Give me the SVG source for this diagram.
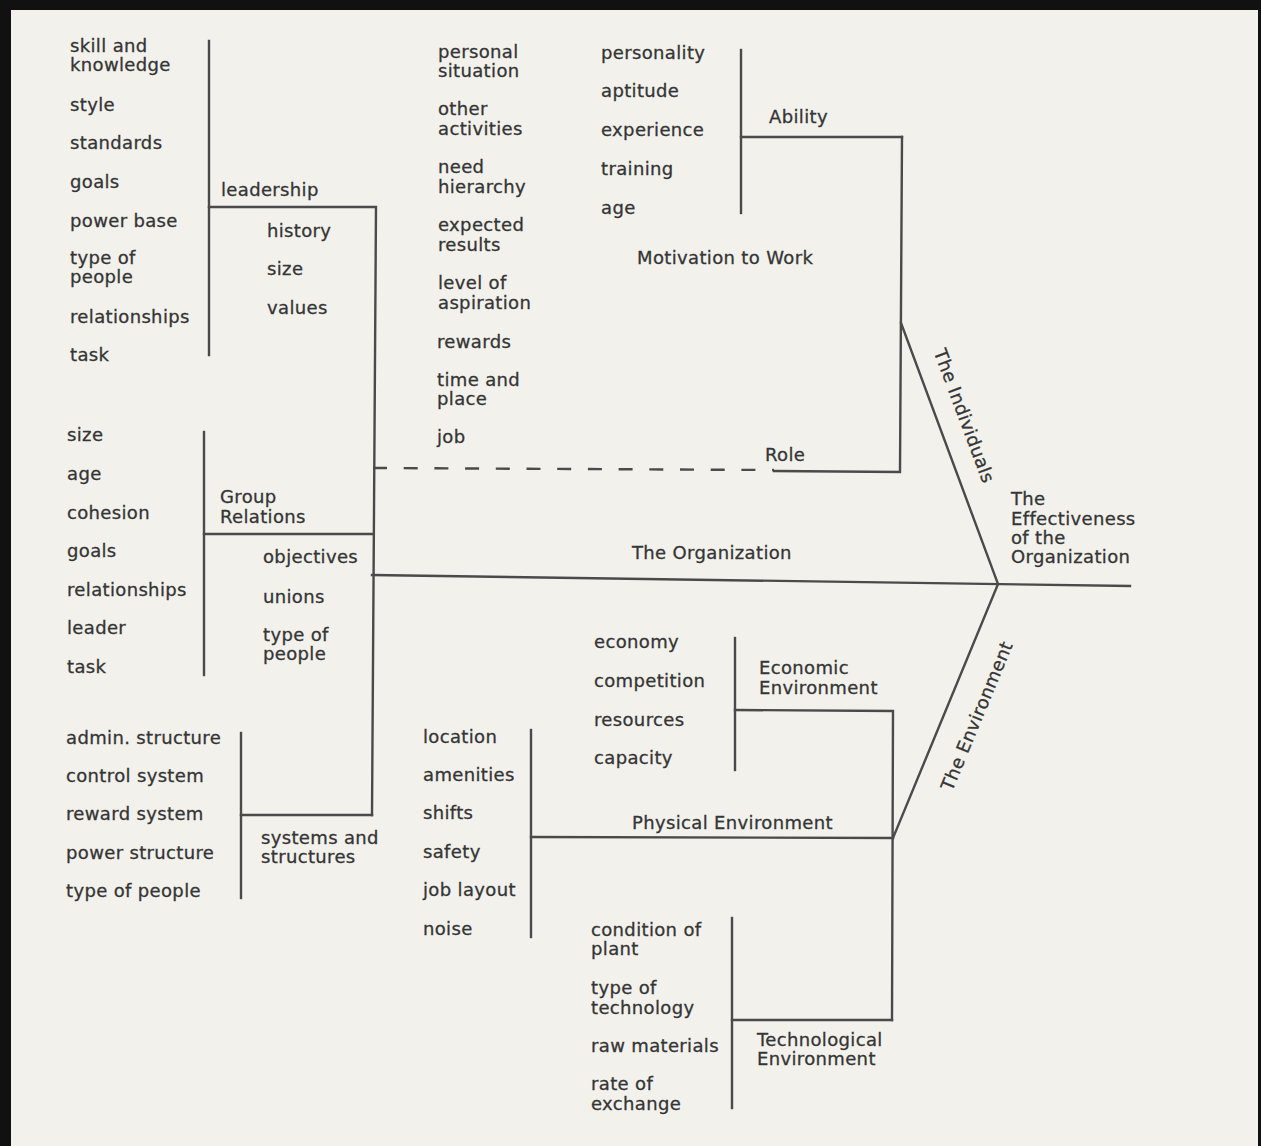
<svg xmlns="http://www.w3.org/2000/svg" width="1261" height="1146" viewBox="0 0 1261 1146">
  <style>
    .t { font-family: "DejaVu Sans", "Liberation Sans", sans-serif; font-size: 18px; fill: #353535; stroke: #353535; stroke-width: 0.3px; letter-spacing: 0.35px; }
    .ln { stroke: #4a4a4a; stroke-width: 2.4; fill: none; stroke-linecap: square; }
    .dash { stroke: #4a4a4a; stroke-width: 2.4; fill: none; stroke-dasharray: 14 16.7; }
  </style>
  <rect x="0" y="0" width="1261" height="1146" fill="#111"/>
  <rect x="11" y="10" width="1247" height="1136" fill="#f2f1ec"/>

  <g id="connectors">
    <!-- leadership -->
    <line class="ln" x1="209" y1="41" x2="209" y2="355"/>
    <polyline class="ln" points="209,207 376,207 372,815"/>
    <!-- group relations -->
    <line class="ln" x1="204" y1="432" x2="204" y2="675"/>
    <line class="ln" x1="204" y1="534" x2="373" y2="534"/>
    <!-- systems and structures -->
    <line class="ln" x1="241" y1="733" x2="241" y2="898"/>
    <line class="ln" x1="241" y1="815" x2="372" y2="815"/>
    <!-- spine -->
    <line class="ln" x1="372" y1="575" x2="1130" y2="586"/>
    <!-- role -->
    <line class="dash" x1="373" y1="468" x2="774" y2="470"/>
    <polyline class="ln" points="774,471 900,472 902,137"/>
    <!-- ability -->
    <line class="ln" x1="741" y1="50" x2="741" y2="213"/>
    <line class="ln" x1="741" y1="137" x2="902" y2="137"/>
    <!-- fish bones -->
    <line class="ln" x1="901" y1="323" x2="998" y2="584"/>
    <line class="ln" x1="998" y1="584" x2="893" y2="838"/>
    <!-- economic -->
    <line class="ln" x1="735" y1="638" x2="735" y2="770"/>
    <polyline class="ln" points="735,710 893,711 892,1020"/>
    <!-- physical -->
    <line class="ln" x1="531" y1="730" x2="531" y2="937"/>
    <line class="ln" x1="531" y1="837" x2="893" y2="838"/>
    <!-- technological -->
    <line class="ln" x1="732" y1="918" x2="732" y2="1108"/>
    <line class="ln" x1="732" y1="1020" x2="892" y2="1020"/>
  </g>

  <g id="leadership">
    <text class="t" x="70" y="52">skill and</text>
    <text class="t" x="70" y="71">knowledge</text>
    <text class="t" x="70" y="111">style</text>
    <text class="t" x="70" y="149">standards</text>
    <text class="t" x="70" y="188">goals</text>
    <text class="t" x="70" y="227">power base</text>
    <text class="t" x="70" y="264">type of</text>
    <text class="t" x="70" y="283">people</text>
    <text class="t" x="70" y="323">relationships</text>
    <text class="t" x="70" y="361">task</text>
    <text class="t" x="221" y="196">leadership</text>
  </g>
  <g id="leadership-sub">
    <text class="t" x="267" y="237">history</text>
    <text class="t" x="267" y="275">size</text>
    <text class="t" x="267" y="314">values</text>
  </g>

  <g id="group-relations">
    <text class="t" x="67" y="441">size</text>
    <text class="t" x="67" y="480">age</text>
    <text class="t" x="67" y="519">cohesion</text>
    <text class="t" x="67" y="557">goals</text>
    <text class="t" x="67" y="596">relationships</text>
    <text class="t" x="67" y="634">leader</text>
    <text class="t" x="67" y="673">task</text>
    <text class="t" x="220" y="503">Group</text>
    <text class="t" x="220" y="523">Relations</text>
  </g>
  <g id="group-sub">
    <text class="t" x="263" y="563">objectives</text>
    <text class="t" x="263" y="603">unions</text>
    <text class="t" x="263" y="641">type of</text>
    <text class="t" x="263" y="660">people</text>
  </g>

  <g id="systems">
    <text class="t" x="66" y="744">admin. structure</text>
    <text class="t" x="66" y="782">control system</text>
    <text class="t" x="66" y="820">reward system</text>
    <text class="t" x="66" y="859">power structure</text>
    <text class="t" x="66" y="897">type of people</text>
    <text class="t" x="261" y="844">systems and</text>
    <text class="t" x="261" y="863">structures</text>
  </g>

  <g id="organization">
    <text class="t" x="632" y="559">The Organization</text>
  </g>

  <g id="motivation">
    <text class="t" x="438" y="58">personal</text>
    <text class="t" x="438" y="77">situation</text>
    <text class="t" x="438" y="115">other</text>
    <text class="t" x="438" y="135">activities</text>
    <text class="t" x="438" y="173">need</text>
    <text class="t" x="438" y="193">hierarchy</text>
    <text class="t" x="438" y="231">expected</text>
    <text class="t" x="438" y="251">results</text>
    <text class="t" x="438" y="289">level of</text>
    <text class="t" x="438" y="309">aspiration</text>
    <text class="t" x="437" y="348">rewards</text>
    <text class="t" x="437" y="386">time and</text>
    <text class="t" x="437" y="405">place</text>
    <text class="t" x="437" y="443">job</text>
    <text class="t" x="637" y="264">Motivation to Work</text>
  </g>

  <g id="ability">
    <text class="t" x="601" y="59">personality</text>
    <text class="t" x="601" y="97">aptitude</text>
    <text class="t" x="601" y="136">experience</text>
    <text class="t" x="601" y="175">training</text>
    <text class="t" x="601" y="214">age</text>
    <text class="t" x="769" y="123">Ability</text>
  </g>

  <g id="role">
    <text class="t" x="765" y="461">Role</text>
  </g>

  <g id="individuals">
    <text class="t" text-anchor="middle" transform="translate(964,416) rotate(69.5)" x="0" y="6">The Individuals</text>
  </g>

  <g id="environment">
    <text class="t" text-anchor="middle" transform="translate(977,716) rotate(-67.5)" x="0" y="6">The Environment</text>
  </g>

  <g id="effectiveness">
    <text class="t" x="1011" y="505">The</text>
    <text class="t" x="1011" y="525">Effectiveness</text>
    <text class="t" x="1011" y="544">of the</text>
    <text class="t" x="1011" y="563">Organization</text>
  </g>

  <g id="economic">
    <text class="t" x="594" y="648">economy</text>
    <text class="t" x="594" y="687">competition</text>
    <text class="t" x="594" y="726">resources</text>
    <text class="t" x="594" y="764">capacity</text>
    <text class="t" x="759" y="674">Economic</text>
    <text class="t" x="759" y="694">Environment</text>
  </g>

  <g id="physical">
    <text class="t" x="423" y="743">location</text>
    <text class="t" x="423" y="781">amenities</text>
    <text class="t" x="423" y="819">shifts</text>
    <text class="t" x="423" y="858">safety</text>
    <text class="t" x="423" y="896">job layout</text>
    <text class="t" x="423" y="935">noise</text>
    <text class="t" x="632" y="829">Physical Environment</text>
  </g>

  <g id="technological">
    <text class="t" x="591" y="936">condition of</text>
    <text class="t" x="591" y="955">plant</text>
    <text class="t" x="591" y="994">type of</text>
    <text class="t" x="591" y="1014">technology</text>
    <text class="t" x="591" y="1052">raw materials</text>
    <text class="t" x="591" y="1090">rate of</text>
    <text class="t" x="591" y="1110">exchange</text>
    <text class="t" x="757" y="1046">Technological</text>
    <text class="t" x="757" y="1065">Environment</text>
  </g>
</svg>
